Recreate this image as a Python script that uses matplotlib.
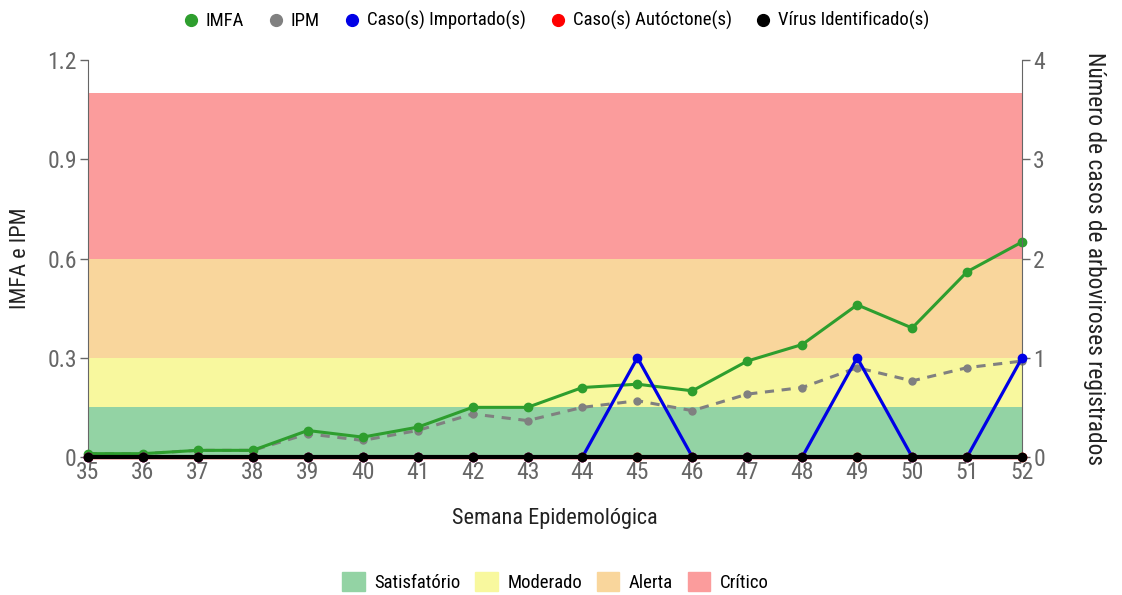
import numpy as np
import matplotlib.pyplot as plt
from matplotlib import font_manager
from matplotlib.lines import Line2D
from matplotlib.patches import Patch

names = {f.name for f in font_manager.fontManager.ttflist}
main_font = 'Roboto Condensed' if 'Roboto Condensed' in names else 'Roboto'
plt.rcParams['font.family'] = [main_font, 'DejaVu Sans']

weeks = list(range(35, 53))
imfa = [0.01, 0.01, 0.02, 0.02, 0.08, 0.06, 0.09, 0.15, 0.15, 0.21, 0.22, 0.20, 0.29, 0.34, 0.46, 0.39, 0.56, 0.65]
ipm = [0.01, 0.01, 0.02, 0.02, 0.07, 0.05, 0.08, 0.13, 0.11, 0.15, 0.17, 0.14, 0.19, 0.21, 0.27, 0.23, 0.27, 0.29]
importados = [0, 0, 0, 0, 0, 0, 0, 0, 0, 0, 1, 0, 0, 0, 1, 0, 0, 1]
autoctones = [0] * 18
virus = [0] * 18

band_names = ['Satisfatório', 'Moderado', 'Alerta', 'Crítico']
band_limits = [0, 0.15, 0.3, 0.6, 1.1]
band_colors = ['#93d3a4', '#f8f89e', '#f9d69c', '#fb9c9c']

grey = '#666666'

fig = plt.figure(figsize=(11.22, 5.95), dpi=100)
ax = fig.add_axes([0.0784, 0.232, 0.8325, 0.667])
ax2 = ax.twinx()

for lo, hi, c in zip(band_limits[:-1], band_limits[1:], band_colors):
    ax.axhspan(lo, hi, color=c, lw=0, zorder=0)

ax.plot(weeks, ipm, color='#808080', ls=(0, (3, 2.5)), lw=2.2, marker='o', ms=5, zorder=3, clip_on=False)
ax.plot(weeks, imfa, color='#2e9e2e', lw=2.2, marker='o', ms=6, zorder=4, clip_on=False)

ax2.plot(weeks, importados, color='#0000e6', lw=2.3, marker='o', ms=6, zorder=3, clip_on=False)
ax2.plot(weeks, autoctones, color='#ff0000', lw=2.5, marker='o', ms=6, zorder=4, clip_on=False)
ax2.plot(weeks, virus, color='black', lw=3, marker='o', ms=6, zorder=5, clip_on=False)

ax.set_xlim(35, 52)
ax.set_ylim(0, 1.2)
ax2.set_ylim(0, 4)
ax.set_xticks(weeks)
ax.set_yticks([0, 0.3, 0.6, 0.9, 1.2])
ax.set_yticklabels(['0', '0.3', '0.6', '0.9', '1.2'])
ax2.set_yticks([0, 1, 2, 3, 4])

cond = main_font == 'Roboto Condensed'
tick_size = 17 if cond else 15
text_size = 16 if cond else 14
right_size = 16.8 if cond else 14.5
leg_size = 13.5 if cond else 12

for a in (ax, ax2):
    for s in a.spines.values():
        s.set_visible(False)
    a.tick_params(axis='both', colors=grey, labelsize=tick_size, length=6, width=1)
ax.spines['left'].set_visible(True)
ax.spines['left'].set_color(grey)
ax2.spines['right'].set_visible(True)
ax2.spines['right'].set_color(grey)
ax.tick_params(axis='x', length=0, pad=3)
ax.tick_params(axis='y', pad=2)
ax2.tick_params(axis='y', pad=2)

ax.set_xlabel('Semana Epidemológica', fontsize=text_size, color='#222222', labelpad=17)
ax.set_ylabel('IMFA e IPM', fontsize=text_size, color='#222222', labelpad=12)
ax2.set_ylabel('Número de casos de arboviroses registrados', fontsize=right_size, color='#222222',
               rotation=-90, labelpad=44)

top_handles = [
    Line2D([], [], ls='', marker='o', ms=8.5, color='#2e9e2e', label='IMFA'),
    Line2D([], [], ls='', marker='o', ms=8.5, color='#808080', label='IPM'),
    Line2D([], [], ls='', marker='o', ms=8.5, color='#0000e6', label='Caso(s) Importado(s)'),
    Line2D([], [], ls='', marker='o', ms=8.5, color='#ff0000', label='Caso(s) Autóctone(s)'),
    Line2D([], [], ls='', marker='o', ms=8.5, color='black', label='Vírus Identificado(s)'),
]
fig.legend(handles=top_handles, loc='center', bbox_to_anchor=(0.495, 0.965), ncol=5,
           frameon=False, fontsize=leg_size, handlelength=1.0, handletextpad=0.3,
           columnspacing=1.2)

bottom_handles = [Patch(color=c, label=n) for c, n in zip(band_colors, band_names)]
fig.legend(handles=bottom_handles, loc='center', bbox_to_anchor=(0.495, 0.022), ncol=4,
           frameon=False, fontsize=leg_size, handlelength=1.2, handleheight=1.2,
           handletextpad=0.5, columnspacing=0.8)

fig.savefig('out.png', dpi=100)
